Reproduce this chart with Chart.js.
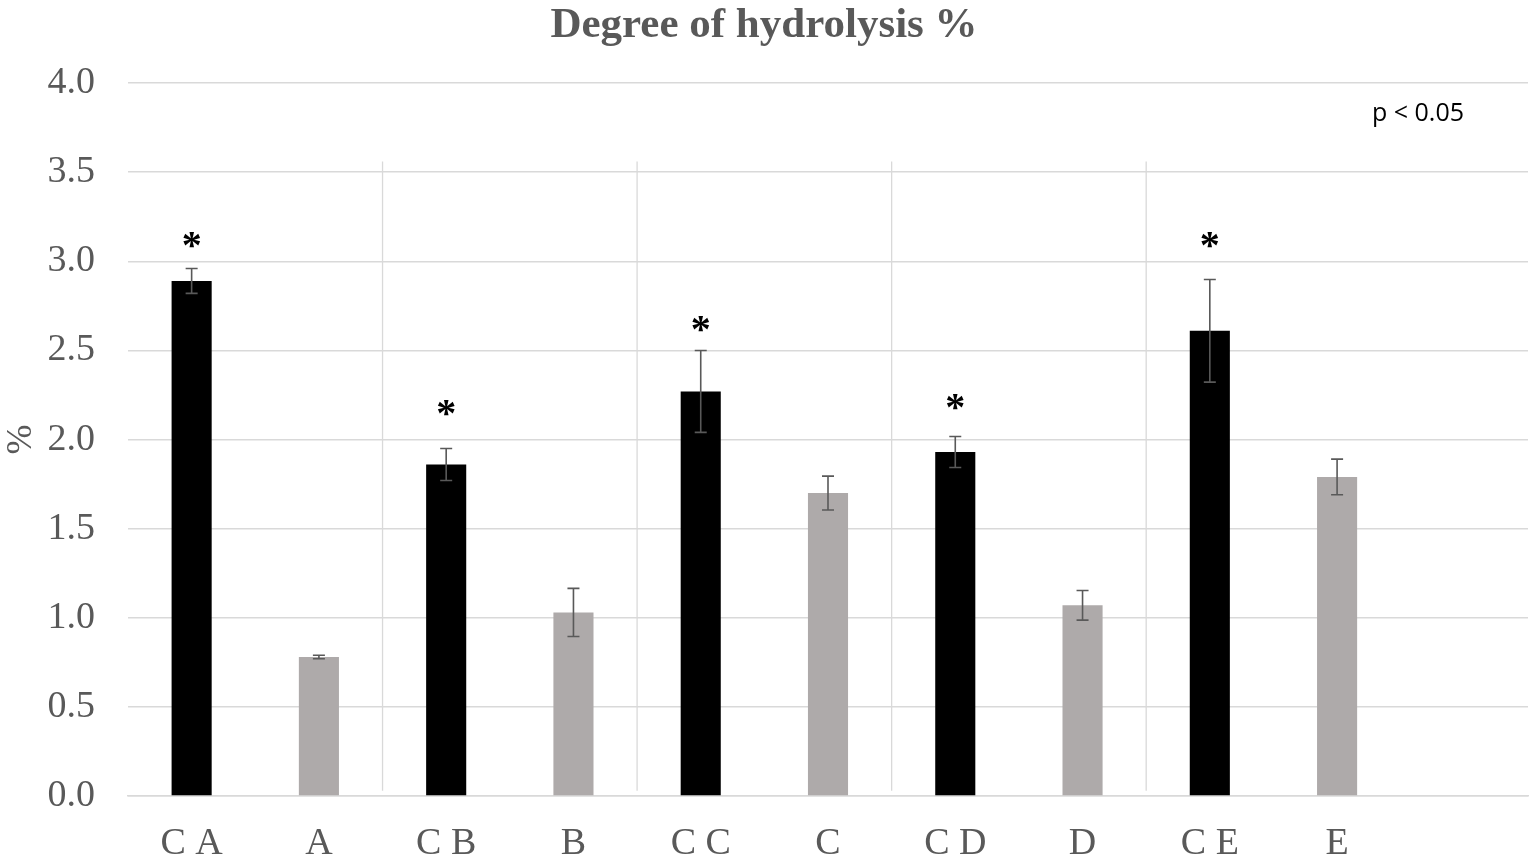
<!DOCTYPE html>
<html>
<head>
<meta charset="utf-8">
<title>Degree of hydrolysis %</title>
<script src="https://cdn.jsdelivr.net/npm/chart.js@4.4.1/dist/chart.umd.min.js"></script>
<style>
  html, body { margin: 0; padding: 0; background: #fff; }
  #wrap { width: 1535px; height: 859px; }
</style>
</head>
<body>
<div id="wrap"><canvas id="dhChart"></canvas></div>
<script>
// data
const categories = ['C A', 'A', 'C B', 'B', 'C C', 'C', 'C D', 'D', 'C E', 'E', ''];
const values     = [2.89, 0.78, 1.86, 1.03, 2.27, 1.70, 1.93, 1.07, 2.61, 1.79];
const errors     = [0.07, 0.01, 0.09, 0.135, 0.23, 0.095, 0.087, 0.083, 0.288, 0.10];
const isControl  = [true, false, true, false, true, false, true, false, true, false];
// where the asterisks sit (in % units), null = none
const starLevels = [3.13, null, 2.19, null, 2.66, null, 2.22, null, 3.13, null];
const yTicks     = [0, 0.5, 1, 1.5, 2, 2.5, 3, 3.5, 4];
const pNote      = 'p < 0.05';

const textGray = '#595959';
const gridGray = '#d9d9d9';
const serif = '"Liberation Serif", "Times New Roman", serif';

// vertical separators between groups + error bars + asterisks
const extras = {
    id: 'extras',
    beforeDatasetsDraw(chart) {
        const { ctx, scales: { x, y } } = chart;
        ctx.save();
        ctx.strokeStyle = gridGray;
        ctx.lineWidth = 1.3;
        for (let i = 1; i < 9; i += 2) {
            const px = (x.getPixelForValue(i) + x.getPixelForValue(i + 1)) / 2;
            ctx.beginPath();
            ctx.moveTo(px, y.getPixelForValue(3.56));
            ctx.lineTo(px, y.getPixelForValue(0.03));
            ctx.stroke();
        }
        ctx.restore();
    },
    afterDatasetsDraw(chart) {
        const { ctx, chartArea, scales: { x, y } } = chart;
        ctx.save();
        ctx.strokeStyle = '#595959';
        ctx.lineWidth = 1.6;
        values.forEach((v, i) => {
            const cx = x.getPixelForValue(i);
            const top = y.getPixelForValue(v + errors[i]);
            const bot = y.getPixelForValue(v - errors[i]);
            ctx.beginPath();
            ctx.moveTo(cx, top); ctx.lineTo(cx, bot);
            ctx.moveTo(cx - 6, top); ctx.lineTo(cx + 6, top);
            ctx.moveTo(cx - 6, bot); ctx.lineTo(cx + 6, bot);
            ctx.stroke();
        });

        ctx.fillStyle = '#000';
        ctx.font = 'bold 40px ' + serif;
        ctx.textAlign = 'center';
        ctx.textBaseline = 'alphabetic';
        starLevels.forEach((s, i) => {
            if (s === null) return;
            ctx.fillText('*', x.getPixelForValue(i), y.getPixelForValue(s) + 20);
        });

        ctx.font = '25px "Open Sans", "Noto Sans", sans-serif';
        ctx.textBaseline = 'middle';
        ctx.fillText(pNote, chartArea.right - 110, y.getPixelForValue(3.83));
        ctx.restore();
    }
};

const ctx = document.getElementById('dhChart').getContext('2d');
new Chart(ctx, {
    type: 'bar',
    data: {
        labels: categories,
        datasets: [{
            label: 'Degree of hydrolysis %',
            data: values,
            backgroundColor: isControl.map(c => c ? '#000000' : '#aeaaaa'),
            borderWidth: 0,
            barPercentage: 0.315,
            categoryPercentage: 1
        }]
    },
    options: {
        responsive: true,
        maintainAspectRatio: false,
        animation: false,
        layout: { padding: { left: 0, right: 7, top: 0, bottom: 0 } },
        plugins: {
            legend: { display: false },
            tooltip: { enabled: false },
            title: {
                display: true,
                text: 'Degree of hydrolysis %',
                color: textGray,
                font: { family: serif, size: 43, weight: 'bold' },
                padding: { top: 0, bottom: 31.5 }
            }
        },
        scales: {
            x: {
                grid: { display: false, drawTicks: false },
                border: { display: true, color: gridGray, width: 1.5 },
                ticks: {
                    color: textGray,
                    font: { family: serif, size: 38 },
                    padding: 25,
                    maxRotation: 0,
                    autoSkip: false
                },
                afterFit(scale) { scale.height = 63; }
            },
            y: {
                min: 0,
                max: 4,
                afterBuildTicks(scale) { scale.ticks = yTicks.map(v => ({ value: v })); },
                grid: { color: gridGray, lineWidth: 1.5, drawTicks: false },
                border: { display: false },
                ticks: {
                    color: textGray,
                    font: { family: serif, size: 38 },
                    padding: 33,
                    callback: v => Number(v).toFixed(1)
                },
                title: {
                    display: true,
                    text: '%',
                    color: textGray,
                    font: { family: serif, size: 36 },
                    padding: { top: 0, bottom: 0 }
                },
                afterFit(scale) { scale.width = 128; }
            }
        }
    },
    plugins: [extras]
});
</script>
</body>
</html>
